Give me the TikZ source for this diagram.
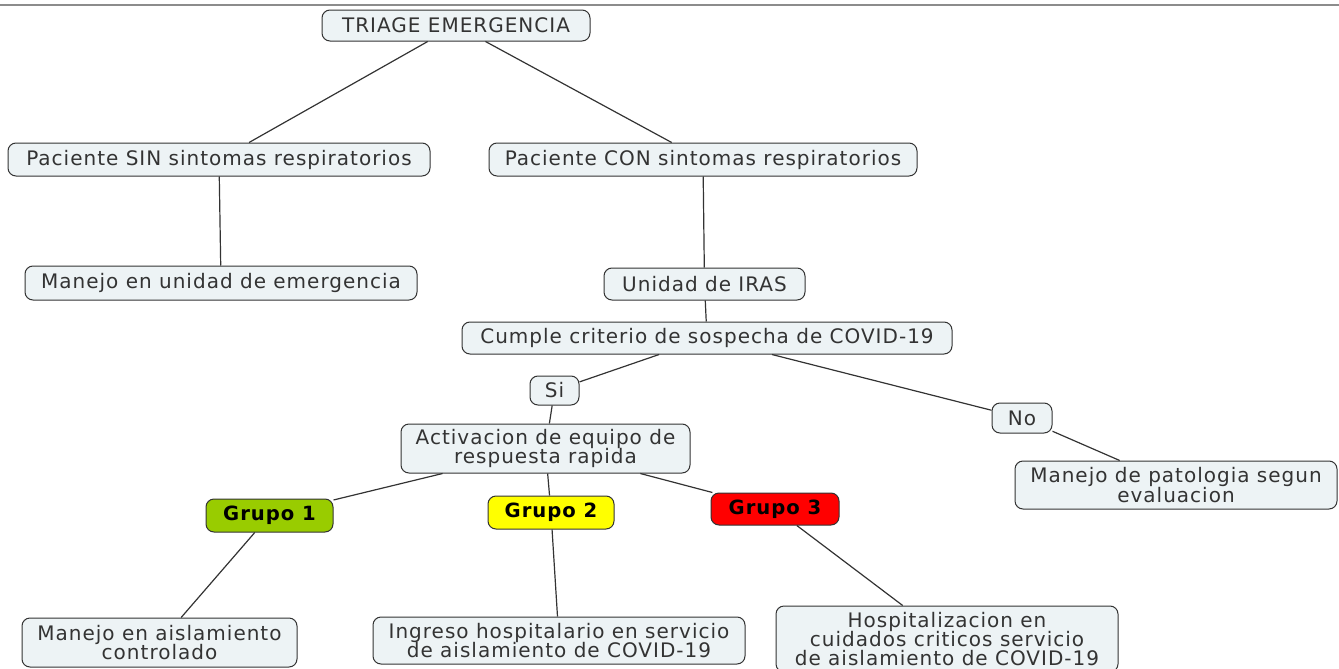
\documentclass[tikz,border=0pt]{standalone}
\usepackage{fontspec}
\setmainfont{DejaVu Sans}[LetterSpace=5]
\definecolor{boxfill}{HTML}{EDF3F5}
\definecolor{boxline}{HTML}{333333}
\definecolor{grupoverde}{HTML}{99CC00}
\definecolor{grupoamarillo}{HTML}{FFFF00}
\definecolor{gruporojo}{HTML}{FF0000}
\newcommand{\mapafont}{\fontsize{10}{9.7}\selectfont\lineskiplimit=-20pt\relax}

\begin{document}
\begin{tikzpicture}[x=0.5pt, y=-0.5pt,
    every node/.style={font=\mapafont, text=black!80},
    concept/.style={draw=boxline, line width=0.5pt, fill=boxfill, rounded corners=4pt,
        align=center, inner sep=1pt},
    grupo/.style={concept, font=\fontsize{9.8}{9.7}\selectfont\bfseries, text=black},
    link/.style={draw=boxline, line width=0.6pt}]
    \useasboundingbox (0,0) rectangle (1339,669);
    \draw[gray!90, line width=0.8pt] (0,5) -- (1339,5);

    \node[concept, minimum width=134pt, minimum height=15.5pt] (triage) at (456,25.5) {TRIAGE EMERGENCIA};
    \node[concept, minimum width=211pt, minimum height=16.5pt] (sin) at (219,159.5) {Paciente SIN sintomas respiratorios};
    \node[concept, minimum width=214pt, minimum height=16.5pt] (con) at (703,159.5) {Paciente CON sintomas respiratorios};
    \node[concept, minimum width=196pt, minimum height=17pt] (unidad) at (221,283) {Manejo en unidad de emergencia};
    \node[concept, minimum width=100.5pt, minimum height=16pt] (iras) at (704.5,284) {Unidad de IRAS};
    \node[concept, minimum width=245pt, minimum height=16pt] (criterio) at (707,338) {Cumple criterio de sospecha de COVID-19};
    \node[concept, minimum width=24.5pt, minimum height=14.5pt] (si) at (554.5,390.5) {Si};
    \node[concept, minimum width=30pt, minimum height=15pt] (no) at (1022,418) {No};
    \node[concept, minimum width=144.5pt, minimum height=24.5pt] (equipo) at (545.5,448.5) {Activacion de equipo de\\respuesta rapida};
    \node[concept, minimum width=161pt, minimum height=24pt] (patologia) at (1176,485) {Manejo de patologia segun\\evaluacion};
    \node[grupo, fill=grupoverde, minimum width=63.5pt, minimum height=16.5pt] (g1) at (269.5,515.5) {Grupo 1};
    \node[grupo, fill=grupoamarillo, minimum width=63pt, minimum height=16.5pt] (g2) at (551,512.5) {Grupo 2};
    \node[grupo, fill=gruporojo, minimum width=64pt, minimum height=16pt] (g3) at (775,509) {Grupo 3};
    \node[concept, minimum width=137.5pt, minimum height=24.5pt] (aislamiento) at (159.5,642.5) {Manejo en aislamiento\\controlado};
    \node[concept, minimum width=186pt, minimum height=23.5pt] (ingreso) at (559,640.5) {Ingreso hospitalario en servicio\\de aislamiento de COVID-19};
    \node[concept, minimum width=171pt, minimum height=33pt] (hosp) at (947,639) {Hospitalizacion en\\cuidados criticos servicio\\de aislamiento de COVID-19};

    \draw[link] (triage) -- (sin);
    \draw[link] (triage) -- (con);
    \draw[link] (sin) -- (unidad);
    \draw[link] (con) -- (iras);
    \draw[link] (iras) -- (criterio);
    \draw[link] (criterio) -- (si);
    \draw[link] (criterio) -- (no);
    \draw[link] (si) -- (equipo);
    \draw[link] (no) -- (patologia);
    \draw[link] (equipo) -- (g1);
    \draw[link] (equipo) -- (g2);
    \draw[link] (equipo) -- (g3);
    \draw[link] (g1) -- (aislamiento);
    \draw[link] (g2) -- (ingreso);
    \draw[link] (g3) -- (hosp);
\end{tikzpicture}
\end{document}
